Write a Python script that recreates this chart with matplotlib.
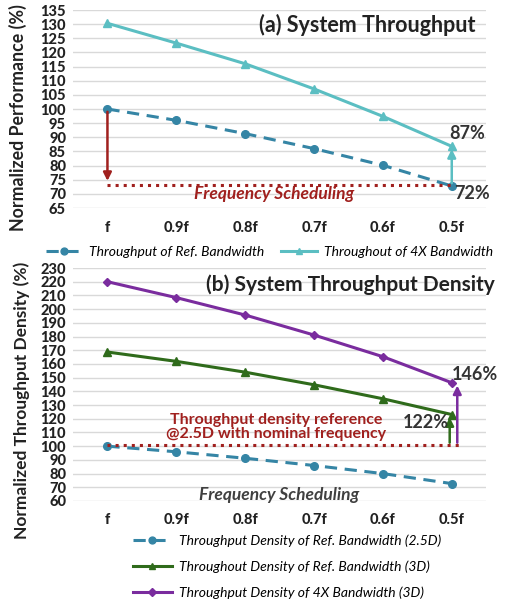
import matplotlib
matplotlib.use("Agg")
import matplotlib.pyplot as plt

plt.rcParams['font.family'] = ['Lato', 'DejaVu Sans']

# data
categories = ['f', '0.9f', '0.8f', '0.7f', '0.6f', '0.5f']
ref_bw = [100, 96, 91.3, 86, 80.1, 72.8]
bw_4x = [130.3, 123.3, 116, 107.1, 97.4, 86.8]

dens_ref_25d = [100, 95.9, 91.2, 85.9, 80, 72.7]
dens_ref_3d = [168.7, 161.9, 154, 144.8, 134.6, 123.1]
dens_4x_3d = [220, 208.4, 195.7, 181.1, 165.3, 146.3]

c_ref = '#3585A5'
c_4x = '#5BBEC2'
c_green = '#2F6B1B'
c_purple = '#7A2C9E'
c_red = '#A0201E'
grid_c = '#D9D9D9'
txt_c = '#222222'

fig = plt.figure(figsize=(5.12, 6.0), dpi=100)
ax1 = fig.add_axes([0.1426, 0.6533, 0.807, 0.33])
ax2 = fig.add_axes([0.1426, 0.165, 0.807, 0.3883])

x = list(range(len(categories)))


def style_axis(ax, ymin, ymax, step):
    ax.set_xlim(-0.5, 5.5)
    ax.set_ylim(ymin, ymax)
    ax.set_yticks(range(ymin, ymax + 1, step))
    ax.set_xticks(x)
    ax.set_xticklabels(categories)
    ax.grid(axis='y', color=grid_c, linewidth=1)
    ax.set_axisbelow(True)
    for s in ax.spines.values():
        s.set_visible(False)
    ax.tick_params(length=0, labelsize=10.5, colors=txt_c)
    ax.tick_params(axis='x', pad=9)
    ax.tick_params(axis='y', pad=5)
    for lbl in ax.get_xticklabels() + ax.get_yticklabels():
        lbl.set_fontweight(900)


# ---- (a) system throughput
style_axis(ax1, 65, 135, 5)
ax1.plot(x, ref_bw, '--', color=c_ref, lw=2.2, dashes=(4, 2.5),
         marker='o', ms=5.5, label='Throughput of Ref. Bandwidth')
ax1.plot(x, bw_4x, '-', color=c_4x, lw=2.2, marker='^', ms=5.5,
         label='Throughout of 4X Bandwidth')

ax1.plot([x[0], x[-1]], [73.2, 73.2], ':', color=c_red, lw=2.2)
ax1.annotate('', xy=(x[0], 73.6), xytext=(x[0], ref_bw[0]),
             arrowprops=dict(arrowstyle='-|>', color=c_red, lw=1.8, mutation_scale=12))
ax1.annotate('', xy=(x[-1], bw_4x[-1]), xytext=(x[-1], ref_bw[-1]),
             arrowprops=dict(arrowstyle='-|>', color=c_4x, lw=1.8, mutation_scale=12))
ax1.text(x[-1] - 0.03, 91.5, '87%', fontsize=13, fontweight='bold', color='#333333',
         va='center')
ax1.text(x[-1] + 0.04, 70.3, '72%', fontsize=13, fontweight='bold', color='#333333',
         va='center')
ax1.text(2.42, 69.8, 'Frequency Scheduling', fontsize=12.5, fontweight='bold',
         style='italic', color=c_red, ha='center', va='center')
ax1.text(0.975, 0.925, '(a) System Throughput', transform=ax1.transAxes,
         fontsize=15.5, fontweight='bold', color=txt_c, ha='right', va='center')
ax1.set_ylabel('Normalized Performance (%)', fontsize=12.8, fontweight='bold',
               color=txt_c)
ax1.yaxis.set_label_coords(-0.111, 0.455)
leg1 = ax1.legend(loc='upper center', bbox_to_anchor=(0.475, -0.13), ncol=2,
                  frameon=False, fontsize=10, handlelength=2.6, columnspacing=1.2,
                  handletextpad=0.5, markerscale=0.9)
for t in leg1.get_texts():
    t.set_style('italic')

# ---- (b) system throughput density
style_axis(ax2, 60, 230, 10)
ax2.plot(x, dens_ref_25d, '--', color=c_ref, lw=2.2, dashes=(4, 2.5),
         marker='o', ms=5.5, label='Throughput Density of Ref. Bandwidth (2.5D)')
ax2.plot(x, dens_ref_3d, '-', color=c_green, lw=2.2, marker='^', ms=5.5,
         label='Throughout Density of Ref. Bandwidth (3D)')
ax2.plot(x, dens_4x_3d, '-', color=c_purple, lw=2.2, marker='D', ms=4.5,
         label='Throughput Density of 4X Bandwidth (3D)')

ax2.plot([x[0], x[-1] + 0.1], [100.5, 100.5], ':', color=c_red, lw=2.2)
ax2.annotate('', xy=(x[-1] - 0.03, dens_ref_3d[-1]), xytext=(x[-1] - 0.03, 100.5),
             arrowprops=dict(arrowstyle='-|>', color=c_green, lw=1.8, mutation_scale=12))
ax2.annotate('', xy=(x[-1] + 0.08, dens_4x_3d[-1]), xytext=(x[-1] + 0.08, 100.5),
             arrowprops=dict(arrowstyle='-|>', color=c_purple, lw=1.8, mutation_scale=12))
ax2.text(x[-1] + 0.0, 152, '146%', fontsize=13, fontweight='bold', color='#333333',
         va='center')
ax2.text(x[-1] - 0.04, 117, '122%', fontsize=13, fontweight='bold', color='#333333',
         ha='right', va='center')
ax2.text(2.45, 114, 'Throughput density reference\n@2.5D with nominal frequency',
         fontsize=11.5, fontweight='bold', color=c_red, ha='center', va='center',
         linespacing=1.05)
ax2.text(2.5, 64.5, 'Frequency Scheduling', fontsize=12.5, fontweight='bold',
         style='italic', color='#404040', ha='center', va='center')
ax2.text(1.02, 0.927, '(b) System Throughput Density', transform=ax2.transAxes,
         fontsize=15, fontweight='bold', color=txt_c, ha='right', va='center')
ax2.set_ylabel('Normalized Throughput Density (%)', fontsize=12.5, fontweight='bold',
               color=txt_c)
ax2.yaxis.set_label_coords(-0.104, 0.433)
leg2 = ax2.legend(loc='upper left', bbox_to_anchor=(0.115, -0.09), ncol=1,
                  frameon=False, fontsize=10, handlelength=2.8, labelspacing=0.95,
                  handletextpad=0.5, markerscale=0.9)
for t in leg2.get_texts():
    t.set_style('italic')

fig.savefig('out.png', dpi=100, facecolor='white')
